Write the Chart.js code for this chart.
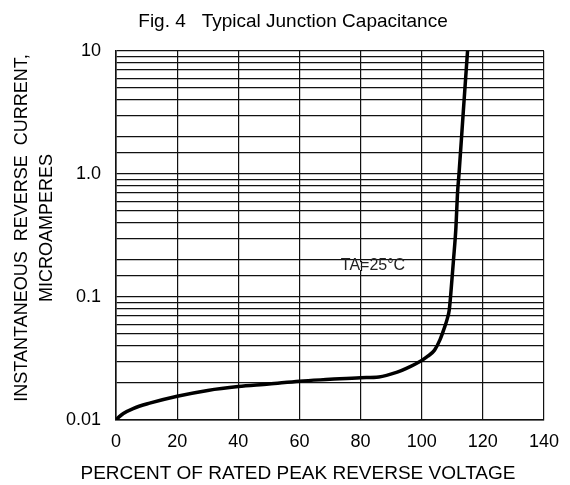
<!DOCTYPE html>
<html>
<head>
<meta charset="utf-8">
<script src="https://cdn.jsdelivr.net/npm/chart.js@4/dist/chart.umd.min.js"></script>
<style>
  body { margin: 0; background: #fff; }
  #wrap { width: 570px; height: 485px; }
</style>
</head>
<body>
<div id="wrap"><canvas id="myChart"></canvas></div>
<script>
// percent of rated peak reverse voltage vs reverse current (uA)
const pct = [0, 1, 2.4, 5.6, 11, 20, 30, 40, 50, 60, 70, 80, 86, 92, 95, 100, 102, 104.2, 106, 107.4, 108.4, 109, 109.5, 110.4, 111.2, 111.7, 112.2, 113.6, 115];
const current = [0.0100, 0.0106, 0.0113, 0.0124, 0.0137, 0.0156, 0.0174, 0.0187, 0.0196, 0.0207, 0.0214, 0.0221, 0.0224, 0.0245, 0.0263, 0.0305, 0.033, 0.037, 0.045, 0.056, 0.067, 0.078, 0.105, 0.2, 0.37, 0.69, 1.0, 3.2, 10];

const xTicks = [0, 20, 40, 60, 80, 100, 120, 140];
const yLabels = { '-2': '0.01', '-1': '0.1', '0': '1.0', '1': '10' };

const titleText = 'Fig. 4   Typical Junction Capacitance';
const yTitle = ['INSTANTANEOUS  REVERSE  CURRENT,', 'MICROAMPERES'];
const xTitle = 'PERCENT OF RATED PEAK REVERSE VOLTAGE';
const noteText = 'TA=25°C';

const FONT = '"Liberation Sans", Arial, sans-serif';
const INK = '#000';

const textPlugin = {
    id: 'texts',
    beforeDatasetsDraw(chart) {
        // white patch behind the temperature note
        const c = chart.ctx;
        const x = chart.scales.x;
        c.save();
        c.font = '16px ' + FONT;
        const w = c.measureText(noteText).width;
        const cx = 373, cy = 266;
        c.fillStyle = '#fff';
        c.fillRect(cx - w / 2 - 6, cy - 4, w + 12, 8);
        // restore the 80% vertical line through the patch
        const px = Math.round(x.getPixelForValue(80)) + 0.5;
        c.strokeStyle = '#111';
        c.lineWidth = 1.2;
        c.beginPath();
        c.moveTo(px, cy - 5);
        c.lineTo(px, cy + 5);
        c.stroke();
        c.fillStyle = '#222';
        c.textAlign = 'center';
        c.textBaseline = 'middle';
        c.fillText(noteText, cx, cy);
        c.restore();
    },
    afterDraw(chart) {
        const c = chart.ctx;
        c.save();
        c.fillStyle = INK;
        c.textAlign = 'center';
        c.textBaseline = 'middle';
        c.font = '19px ' + FONT;
        c.fillText(titleText, 293, 22);
        c.fillText(xTitle, 298, 474);
        c.font = '18px ' + FONT;
        c.save();
        c.translate(22, 228);
        c.rotate(-Math.PI / 2);
        c.fillText(yTitle[0], 0, 0);
        c.restore();
        c.save();
        c.translate(47, 228);
        c.rotate(-Math.PI / 2);
        c.fillText(yTitle[1], 0, 0);
        c.restore();
        c.restore();
    }
};

const ctx = document.getElementById('myChart');

new Chart(ctx, {
    type: 'line',
    data: {
        datasets: [{
            data: pct.map((p, i) => ({ x: p, y: current[i] })),
            borderColor: '#000',
            borderWidth: 3.5,
            pointRadius: 0,
            fill: false,
            cubicInterpolationMode: 'monotone'
        }]
    },
    options: {
        responsive: true,
        maintainAspectRatio: false,
        animation: false,
        layout: { padding: { top: 51, right: 23, left: 0, bottom: 0 } },
        plugins: {
            legend: { display: false },
            tooltip: { enabled: false }
        },
        scales: {
            x: {
                type: 'linear',
                min: 0,
                max: 140,
                afterBuildTicks: (scale) => { scale.ticks = xTicks.map(v => ({ value: v })); },
                afterFit: (scale) => { scale.height = 65; },
                grid: { color: '#111', lineWidth: 1.2, drawTicks: false },
                border: { color: '#111', width: 1.6 },
                ticks: {
                    color: INK,
                    padding: 11,
                    font: { family: FONT, size: 18 },
                    maxRotation: 0
                }
            },
            y: {
                type: 'logarithmic',
                min: 0.01,
                max: 10,
                afterFit: (scale) => { scale.width = 116; },
                grid: { color: '#111', lineWidth: 1.2, drawTicks: false },
                border: { color: '#111', width: 1.6 },
                ticks: {
                    autoSkip: false,
                    color: INK,
                    padding: 15,
                    font: { family: FONT, size: 18 },
                    callback: (v) => {
                        const e = Math.log10(v);
                        const r = Math.round(e);
                        if (Math.abs(e - r) < 1e-6 && yLabels[r] !== undefined) return yLabels[r];
                        return '';
                    }
                }
            }
        }
    },
    plugins: [textPlugin]
});
</script>
</body>
</html>
